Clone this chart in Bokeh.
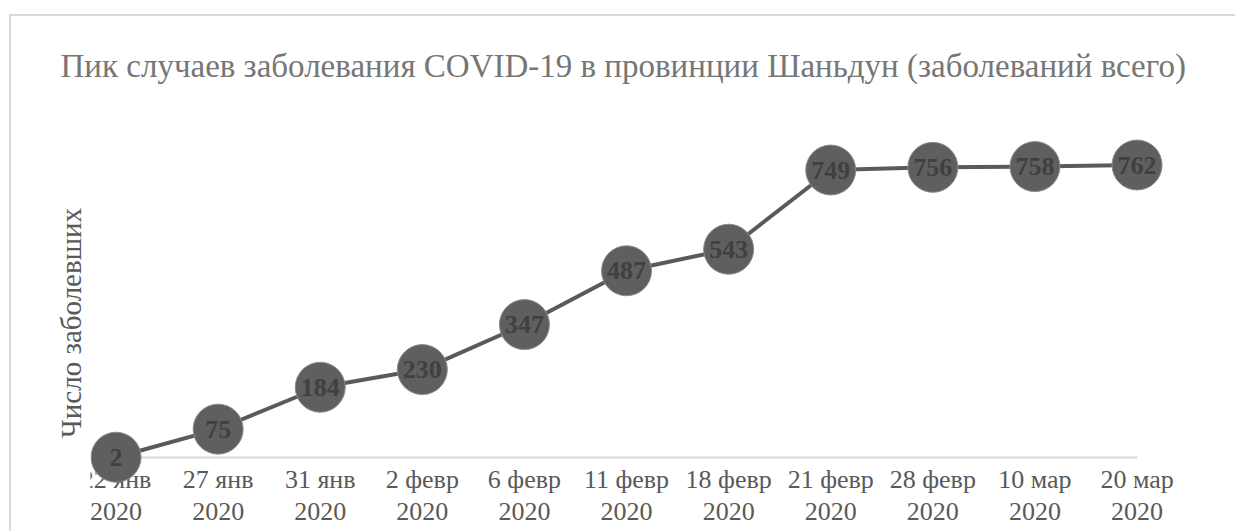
from bokeh.plotting import figure
from bokeh.models import ColumnDataSource, LinearAxis, FixedTicker, Range1d
from bokeh.core.properties import value
from bokeh.embed import file_html
from bokeh.resources import INLINE

# ---- data ----
dates = ["22 янв\n2020", "27 янв\n2020", "31 янв\n2020", "2 февр\n2020", "6 февр\n2020",
         "11 февр\n2020", "18 февр\n2020", "21 февр\n2020", "28 февр\n2020", "10 мар\n2020",
         "20 мар\n2020"]
cases = [2, 75, 184, 230, 347, 487, 543, 749, 756, 758, 762]
title_text = "Пик случаев заболевания COVID-19 в провинции Шаньдун (заболеваний всего)"
y_label = "Число заболевших"

idx = list(range(len(dates)))
src = ColumnDataSource(dict(x=idx, y=cases, label=[str(c) for c in cases]))

FONT = "Liberation Serif"
W, H = 1226, 517

p = figure(width=W, height=H, output_backend="svg", toolbar_location=None,
           x_axis_type=None, y_axis_type=None,
           x_range=Range1d(-0.250, 10.984), y_range=Range1d(-196.4, 898.6),
           min_border_left=79, min_border_right=0, min_border_bottom=0, min_border_top=96)
p.margin = (14, 0, 0, 9)
p.outline_line_color = None
p.background_fill_color = "white"
p.border_fill_color = "white"
p.styles = {"border-top": "2px solid #d9d9d9", "border-left": "2px solid #d9d9d9"}

p.title.text = title_text
p.title.text_font = FONT
p.title.text_font_size = "33px"
p.title.text_font_style = "normal"
p.title.text_color = "#767676"
p.title.align = "left"
p.title.offset = -30
p.title.standoff = 57

# x axis at y = 0
xaxis = LinearAxis(fixed_location=0, ticker=FixedTicker(ticks=idx), bounds=(0, len(dates) - 1),
                   major_label_overrides={i: d for i, d in zip(idx, dates)})
xaxis.level = "underlay"
xaxis.major_tick_line_color = None
xaxis.minor_tick_line_color = None
xaxis.axis_line_color = "#d9d9d9"
xaxis.axis_line_width = 2
xaxis.major_label_text_font = FONT
xaxis.major_label_text_font_size = "26px"
xaxis.major_label_text_color = "#595959"
xaxis.major_label_text_line_height = 1.1
xaxis.major_label_standoff = 1
p.add_layout(xaxis, "below")

# y axis: only the title
yaxis = LinearAxis(ticker=FixedTicker(ticks=[]), axis_label=y_label)
yaxis.axis_line_color = None
yaxis.major_tick_line_color = None
yaxis.minor_tick_line_color = None
yaxis.major_label_text_font_size = "0px"
yaxis.axis_label_text_font = FONT
yaxis.axis_label_text_font_size = "29px"
yaxis.axis_label_text_font_style = "normal"
yaxis.axis_label_text_color = "#595959"
yaxis.axis_label_standoff = 4
p.add_layout(yaxis, "left")

p.line("x", "y", source=src, line_color="#5a5a5a", line_width=4)
p.scatter("x", "y", source=src, marker="circle", size=50,
          fill_color="#5f5f5f", line_color="#8c8c8c", line_width=1)
p.text("x", "y", text="label", source=src, text_align="center", text_baseline="middle",
       text_font=value(FONT), text_font_style="bold", text_font_size="26px",
       text_color="#404040")

open("out.html", "w").write(file_html(p, INLINE))
